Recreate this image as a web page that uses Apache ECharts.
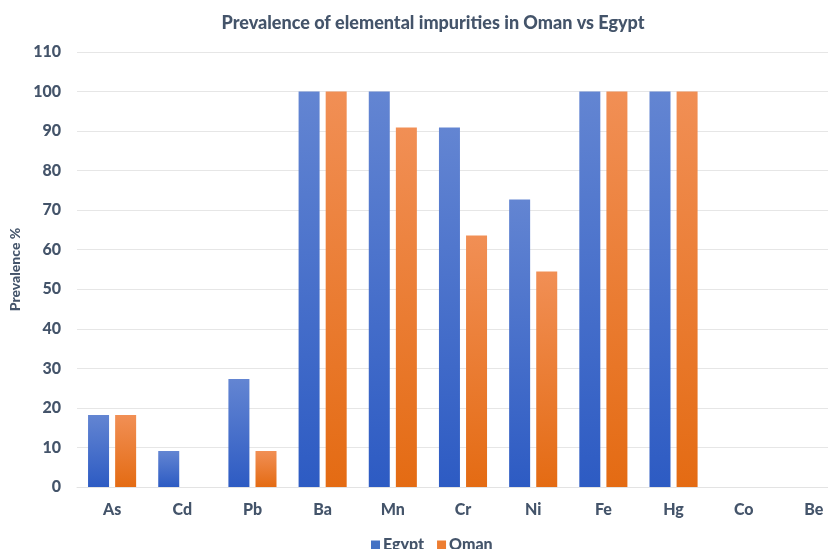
<!DOCTYPE html>
<html>
<head>
<meta charset="utf-8">
<script src="https://cdn.jsdelivr.net/npm/echarts@6/dist/echarts.min.js"></script>
<style>
  html, body { margin: 0; padding: 0; background: #ffffff; overflow: hidden; }
  /* the plot runs a little past the right edge of the window */
  #chart { width: 849px; height: 549px; }
</style>
</head>
<body>
<div id="chart"></div>
<script>
// Elements tested and the share of samples (%) in which each was detected
const elements = ['As', 'Cd', 'Pb', 'Ba', 'Mn', 'Cr', 'Ni', 'Fe', 'Hg', 'Co', 'Be'];
const egyptValues = [18.2, 9.1, 27.3, 100, 100, 90.9, 72.7, 100, 100, 0, 0];
const omanValues = [18.2, 0, 9.1, 100, 90.9, 63.6, 54.5, 100, 100, 0, 0];
const yTicks = { min: 0, max: 110, step: 10 };

const textColor = '#44546a';
const font = 'Lato, "Open Sans", sans-serif';
const weight = 900;

function vGrad(top, bottom) {
  return new echarts.graphic.LinearGradient(0, 0, 0, 1, [
    { offset: 0, color: top },
    { offset: 1, color: bottom }
  ]);
}

const chart = echarts.init(document.getElementById('chart'), null, { renderer: 'canvas' });
chart.setOption({
  animation: false,
  backgroundColor: '#ffffff',
  title: {
    text: 'Prevalence of elemental impurities in Oman vs Egypt',
    left: 428,
    textAlign: 'center',
    top: 9,
    textStyle: { fontFamily: font, fontWeight: weight, fontSize: 18, color: textColor }
  },
  legend: {
    data: [
      { name: 'Egypt', itemStyle: { color: '#4472c4' } },
      { name: 'Oman', itemStyle: { color: '#ed7d31' } }
    ],
    left: 366,
    top: 532,
    icon: 'rect',
    itemWidth: 9,
    itemHeight: 9,
    itemGap: 13,
    textStyle: { fontFamily: font, fontWeight: weight, fontSize: 16, color: textColor, padding: [0, 0, 0, -2] }
  },
  grid: { left: 75, top: 52, right: 0, bottom: 62, containLabel: false },
  xAxis: {
    type: 'category',
    data: elements,
    axisLine: { lineStyle: { color: '#e3e3e3', width: 1 } },
    axisTick: { show: false },
    axisLabel: { fontFamily: font, fontWeight: weight, fontSize: 16, color: textColor, margin: 15 }
  },
  yAxis: {
    type: 'value',
    min: yTicks.min,
    max: yTicks.max,
    interval: yTicks.step,
    name: 'Prevalence %',
    nameLocation: 'middle',
    nameGap: 55,
    nameTextStyle: { fontFamily: font, fontWeight: weight, fontSize: 14, color: textColor },
    axisLine: { show: false },
    axisTick: { show: false },
    splitLine: { lineStyle: { color: '#e6e6e6', width: 1 } },
    axisLabel: { fontFamily: font, fontWeight: weight, fontSize: 16, color: textColor, margin: 16 }
  },
  series: [
    {
      name: 'Egypt',
      type: 'bar',
      data: egyptValues,
      barWidth: 21,
      barGap: '29%',
      itemStyle: { color: vGrad('#6385d2', '#2d5bc3') }
    },
    {
      name: 'Oman',
      type: 'bar',
      data: omanValues,
      barWidth: 21,
      itemStyle: { color: vGrad('#f18f55', '#e46b13') }
    }
  ]
});
</script>
</body>
</html>
